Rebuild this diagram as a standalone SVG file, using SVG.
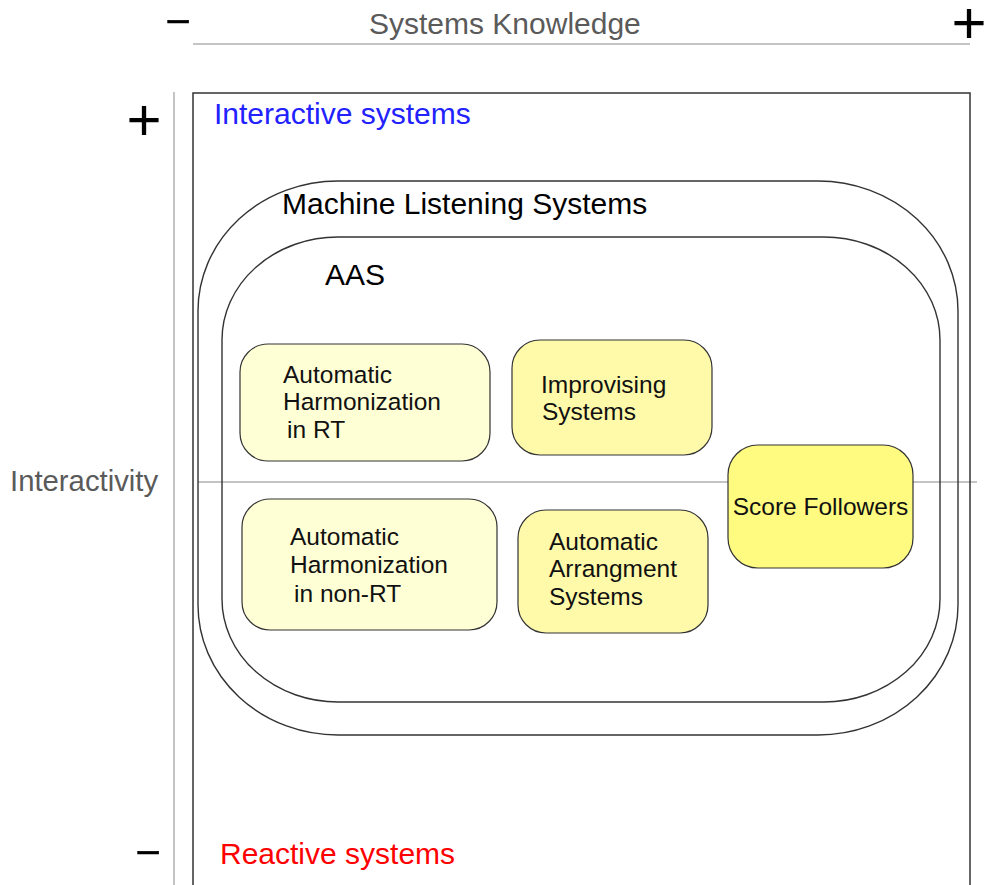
<svg xmlns="http://www.w3.org/2000/svg" width="988" height="885" viewBox="0 0 988 885">
  <style>
    text { font-family: "Liberation Sans", Arial, sans-serif; }
    .axis { stroke: #b0b0b0; stroke-width: 1.5; fill: none; }
    .frame { stroke: #333; stroke-width: 1.5; fill: none; }
    .set { stroke: #333; stroke-width: 1.4; fill: none; }
    .node rect { stroke: #333; stroke-width: 1.2; }
    .node text { font-size: 24.5px; fill: #111; }
    .label { font-size: 30px; }
    .axis-label { font-size: 30px; fill: #5a5a5a; }
    .sign { font-size: 60px; fill: #000; }
    .dash { font-size: 34px; fill: #000; stroke: #000; stroke-width: 0.7; }
    .pale { fill: #ffffd6; }
    .mid { fill: #fffaaa; }
    .bright { fill: #fffb80; }
  </style>

  <!-- axes and axis labels -->
  <g id="axes">
    <line class="axis" x1="193" y1="44" x2="970" y2="44"/>
    <line class="axis" x1="174" y1="92" x2="174" y2="885"/>
    <line class="axis" x1="198" y1="482" x2="977" y2="482"/>
    <text class="axis-label" x="369" y="34">Systems Knowledge</text>
    <text class="axis-label" x="10" y="491" style="font-size:29.3px">Interactivity</text>
    <text class="dash" text-anchor="middle" transform="translate(178,31.4) scale(2.4,1)" x="0" y="0">-</text>
    <text class="sign" text-anchor="middle" x="969" y="43">+</text>
    <text class="sign" text-anchor="middle" x="144" y="140">+</text>
    <text class="dash" text-anchor="middle" transform="translate(148,862.4) scale(2.4,1)" x="0" y="0">-</text>
  </g>

  <!-- plane of systems -->
  <g id="systems-plane">
    <rect class="frame" x="193" y="93" width="777" height="820"/>
    <text class="label" x="214" y="124" fill="#2222ff">Interactive systems</text>
    <text class="label" x="220" y="864" fill="#ff0000">Reactive systems</text>
  </g>

  <!-- nested sets -->
  <g id="machine-listening">
    <rect class="set" x="198" y="181" width="760" height="554" rx="140" ry="130"/>
    <text class="label" x="282" y="214" fill="#000">Machine Listening Systems</text>
  </g>
  <g id="aas">
    <rect class="set" x="222" y="237" width="718" height="465" rx="116" ry="103"/>
    <text class="label" x="325" y="285" fill="#000">AAS</text>
  </g>

  <!-- system nodes -->
  <g id="harmonization-rt" class="node">
    <rect class="pale" x="240" y="344" width="250" height="117" rx="28" ry="28"/>
    <text x="283" y="383">Automatic</text>
    <text x="283" y="410">Harmonization</text>
    <text x="287" y="438">in RT</text>
  </g>
  <g id="improvising" class="node">
    <rect class="mid" x="512" y="340" width="200" height="115" rx="28" ry="28"/>
    <text x="541" y="393">Improvising</text>
    <text x="542" y="420">Systems</text>
  </g>
  <g id="score-followers" class="node">
    <rect class="bright" x="728" y="445" width="185" height="123" rx="30" ry="30"/>
    <text x="820.5" y="515" text-anchor="middle">Score Followers</text>
  </g>
  <g id="harmonization-non-rt" class="node">
    <rect class="pale" x="242" y="499" width="255" height="131" rx="28" ry="28"/>
    <text x="290" y="545">Automatic</text>
    <text x="290" y="573">Harmonization</text>
    <text x="294" y="602">in non-RT</text>
  </g>
  <g id="arrangement" class="node">
    <rect class="mid" x="518" y="510" width="190" height="123" rx="28" ry="28"/>
    <text x="549" y="550">Automatic</text>
    <text x="549" y="577">Arrangment</text>
    <text x="549" y="605">Systems</text>
  </g>

  <!-- no connectors in this chart -->
  <g id="connectors"/>
</svg>
